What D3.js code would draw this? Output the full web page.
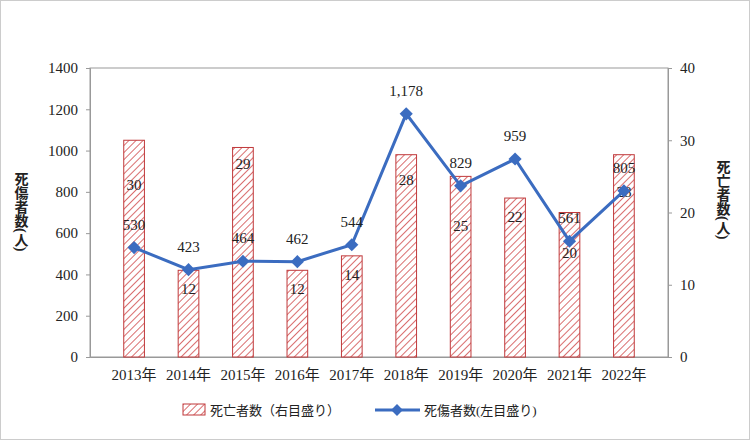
<!DOCTYPE html>
<html><head><meta charset="utf-8">
<script src="https://cdn.jsdelivr.net/npm/d3@7"></script>
<style>
body{margin:0;background:#fff;}
text{font-family:"Liberation Serif","Noto Sans CJK JP",serif;fill:#222;}
</style></head>
<body><svg id="c" width="750" height="440"></svg>
<script>
var years = ["2013年","2014年","2015年","2016年","2017年","2018年","2019年","2020年","2021年","2022年"];
var deaths = [30,12,29,12,14,28,25,22,20,28];
var casualties = [530,423,464,462,544,1178,829,959,561,805];
var labelDrop = [50,24,22,24,24,30,55,24,45,42];

var svg = d3.select("#c");
var m = {l:90, r:668, t:68, b:357};

svg.append("rect").attr("x",0.5).attr("y",0.5).attr("width",749).attr("height",439)
  .attr("fill","none").attr("stroke","#ccc");

var defs = svg.append("defs");
var pat = defs.append("pattern").attr("id","hatch").attr("patternUnits","userSpaceOnUse")
  .attr("width",5).attr("height",5).attr("patternTransform","rotate(45)");
pat.append("rect").attr("width",5).attr("height",5).attr("fill","#fff");
pat.append("line").attr("x1",0).attr("y1",0).attr("x2",0).attr("y2",5)
  .attr("stroke","#d0494a").attr("stroke-width",1.6);

var x = d3.scaleBand().domain(years).range([m.l,m.r]).padding(0.62);
var yL = d3.scaleLinear().domain([0,1400]).range([m.b,m.t]);
var yR = d3.scaleLinear().domain([0,40]).range([m.b,m.t]);

svg.append("rect").attr("x",m.l).attr("y",m.t).attr("width",m.r-m.l).attr("height",m.b-m.t)
  .attr("fill","none").attr("stroke","#999");

var axL = svg.append("g").attr("transform","translate("+m.l+",0)")
  .call(d3.axisLeft(yL).tickValues(d3.range(0,1401,200)).tickFormat(d3.format("d")).tickSize(4).tickPadding(8));
var axR = svg.append("g").attr("transform","translate("+m.r+",0)")
  .call(d3.axisRight(yR).tickValues([0,10,20,30,40]).tickSize(4).tickPadding(8));
var axB = svg.append("g").attr("transform","translate(0,"+m.b+")")
  .call(d3.axisBottom(x).tickSize(0).tickPadding(12));
[axL,axR,axB].forEach(function(a){
  a.select(".domain").attr("stroke","#999");
  a.selectAll("line").attr("stroke","#999");
  a.selectAll("text").attr("font-size",15).attr("fill","#222");
});

// bars
svg.selectAll(".bar").data(deaths).enter().append("rect")
  .attr("x",function(d,i){return x(years[i]);})
  .attr("y",function(d){return yR(d);})
  .attr("width",x.bandwidth())
  .attr("height",function(d){return m.b-yR(d);})
  .attr("fill","url(#hatch)").attr("stroke","#c0393b").attr("stroke-width",1);
svg.selectAll(".bl").data(deaths).enter().append("text")
  .attr("x",function(d,i){return x(years[i])+x.bandwidth()/2;})
  .attr("y",function(d,i){return yR(d)+labelDrop[i];})
  .attr("text-anchor","middle").attr("font-size",15).text(function(d){return d;});

// line
var cx = function(i){return x(years[i])+x.bandwidth()/2;};
svg.append("path").datum(casualties)
  .attr("d",d3.line().x(function(d,i){return cx(i);}).y(function(d){return yL(d);}))
  .attr("fill","none").attr("stroke","#3b6cc0").attr("stroke-width",3);
svg.selectAll(".mk").data(casualties).enter().append("path")
  .attr("d",d3.symbol(d3.symbolDiamond2,110))
  .attr("transform",function(d,i){return "translate("+cx(i)+","+yL(d)+")";})
  .attr("fill","#3b6cc0");
svg.selectAll(".ll").data(casualties).enter().append("text")
  .attr("x",function(d,i){return cx(i);})
  .attr("y",function(d){return yL(d)-18;})
  .attr("text-anchor","middle").attr("font-size",15).text(function(d){return d3.format(",")(d);});

svg.append("text").attr("x",20).attr("y",172).style("writing-mode","vertical-rl")
  .attr("font-size",14).attr("font-weight","bold").text("死傷者数(人)");
svg.append("text").attr("x",722).attr("y",160).style("writing-mode","vertical-rl")
  .attr("font-size",14).attr("font-weight","bold").text("死亡者数(人)");

// legend
var lg = svg.append("g").attr("transform","translate(0,410)");
lg.append("rect").attr("x",183).attr("y",-6).attr("width",22).attr("height",11)
  .attr("fill","url(#hatch)").attr("stroke","#c0393b");
lg.append("text").attr("x",210).attr("y",5).attr("font-size",13).text("死亡者数（右目盛り）");
lg.append("line").attr("x1",375).attr("x2",420).attr("y1",0).attr("y2",0)
  .attr("stroke","#3b6cc0").attr("stroke-width",3);
lg.append("path").attr("d",d3.symbol(d3.symbolDiamond2,90)).attr("transform","translate(397,0)")
  .attr("fill","#3b6cc0");
lg.append("text").attr("x",424).attr("y",5).attr("font-size",13).text("死傷者数(左目盛り)");
</script></body></html>
